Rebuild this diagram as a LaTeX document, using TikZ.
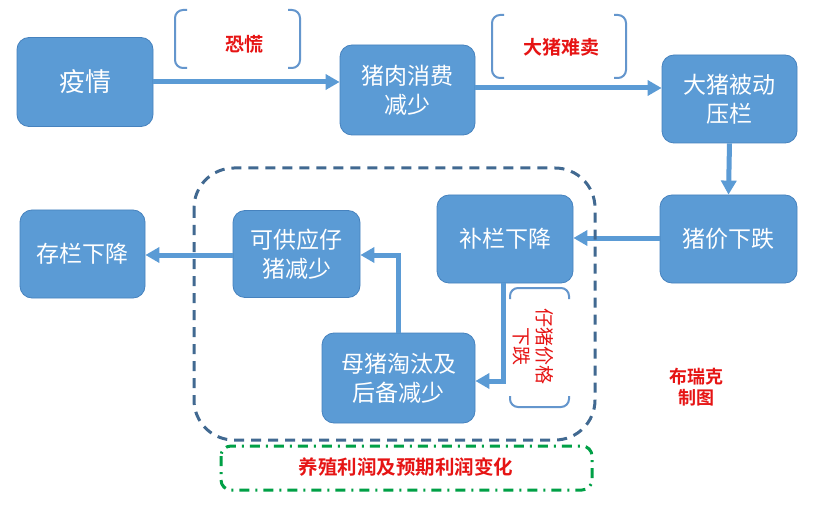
\documentclass[tikz,border=0pt]{standalone}
\usepackage{fontspec}
\setmainfont{Noto Sans CJK SC}
\newfontfamily\cjkb{Noto Sans CJK SC Bold}
\usetikzlibrary{arrows.meta}
\definecolor{boxblue}{RGB}{91,155,213}
\definecolor{boxedge}{RGB}{70,130,190}
\definecolor{brk}{RGB}{100,150,205}
\definecolor{dashc}{RGB}{65,105,145}
\definecolor{greenc}{RGB}{0,160,70}
\definecolor{redc}{RGB}{230,20,20}
\tikzset{
  box/.style={draw=boxedge, line width=0.8pt, fill=boxblue, rounded corners=12pt, text=white, align=center, font=\fontsize{23}{29}\selectfont, inner sep=0pt},
  flow/.style={draw=boxblue, line width=5pt, -{Triangle[length=14pt,width=15pt]}},
  bracket/.style={draw=brk, line width=2pt, rounded corners=8pt},
  redlbl/.style={text=redc, font=\cjkb\fontsize{19}{23}\selectfont, align=center},
}
\begin{document}
\begin{tikzpicture}[x=1pt,y=-1pt]
\useasboundingbox[fill=white] (0,0) rectangle (820,508);
% nodes
\node[box, minimum width=136pt, minimum height=89pt, font=\fontsize{26}{32}\selectfont] (yq) at (85,82) {疫情};
\node[box, minimum width=135pt, minimum height=90pt] (zr) at (407.5,90) {猪肉消费\\减少};
\node[box, minimum width=135pt, minimum height=88pt] (dz) at (729.5,99) {大猪被动\\压栏};
\node[box, minimum width=137pt, minimum height=88pt] (zj) at (728.5,239) {猪价下跌};
\node[box, minimum width=136pt, minimum height=88pt] (bl) at (505,239) {补栏下降};
\node[box, minimum width=127pt, minimum height=87pt] (kg) at (296.5,254) {可供应仔\\猪减少};
\node[box, minimum width=125pt, minimum height=88pt] (cl) at (82.5,254) {存栏下降};
\node[box, minimum width=153pt, minimum height=90pt] (mz) at (398.5,378) {母猪淘汰及\\后备减少};
% arrows
\draw[flow] (yq.east |- 0,82) -- (zr.west |- 0,82);
\draw[flow] (zr.east |- 0,88) -- (dz.west |- 0,88);
\draw[flow] (dz.south) -- (zj.north);
\draw[flow] (zj.west |- 0,238) -- (bl.east |- 0,238);
\draw[flow] (bl.south -| 503,0) |- (mz.east |- 0,381);
\draw[flow] (mz.north -| 398,0) |- (kg.east |- 0,255);
\draw[flow] (kg.west |- 0,255) -- (cl.east |- 0,255);
% brackets
\draw[bracket] (187,10) -- (175,10) -- (175,68) -- (187,68);
\draw[bracket] (288,10) -- (300,10) -- (300,68) -- (288,68);
\node[redlbl] (kh) at (244,44) {恐慌};
\draw[bracket] (504,15) -- (492,15) -- (492,78) -- (504,78);
\draw[bracket] (614,15) -- (626,15) -- (626,78) -- (614,78);
\node[redlbl] (dn) at (561,47) {大猪难卖};
\draw[bracket] (510,299) -- (510,288) -- (569,288) -- (569,299);
\draw[bracket] (510,396) -- (510,407) -- (569,407) -- (569,396);
\node[text=redc, font=\fontsize{19}{23}\selectfont, align=center, rotate=-90] (zz) at (533,346) {仔猪价格\\下跌};
% dashed group
\draw[dashc, line width=3pt, dash pattern=on 10pt off 7pt, rounded corners=40pt] (194,168) rectangle (595,440);
% green dash-dot
\draw[greenc, line width=3pt, dash pattern=on 10pt off 6pt on 2pt off 6pt, rounded corners=10pt] (221,446) rectangle (592,490);
\node[redlbl, font=\cjkb\fontsize{19.5}{24}\selectfont] (yz) at (406,467) {养殖利润及预期利润变化};
\node[redlbl, font=\cjkb\fontsize{18}{21}\selectfont] (br) at (696,387) {布瑞克\\制图};
\end{tikzpicture}
\end{document}
